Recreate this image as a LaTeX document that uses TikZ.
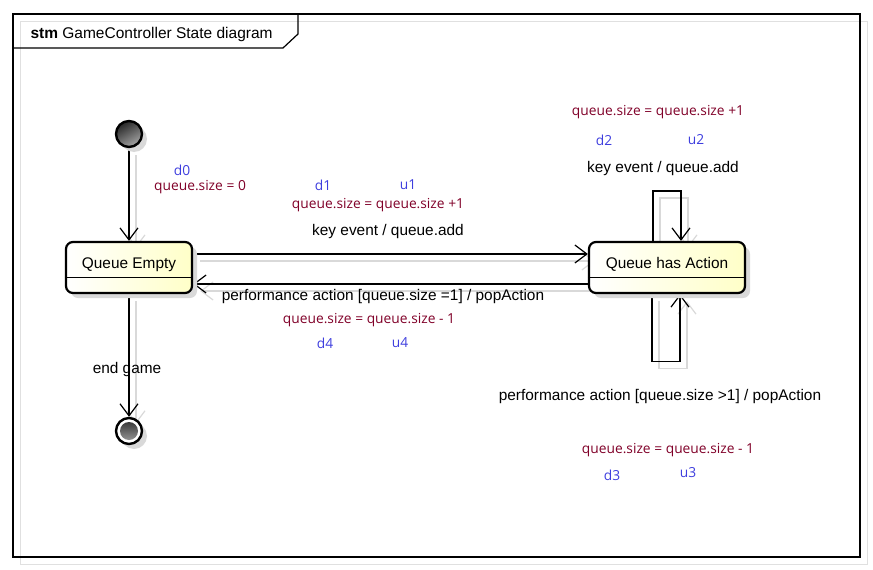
\documentclass[tikz,border=0pt]{standalone}
\usepackage{fontspec}
\setmainfont{Liberation Sans}
\newfontfamily\guardfont{Open Sans}
\usetikzlibrary{arrows.meta, shadows, positioning}
\definecolor{varblue}{RGB}{62,62,222}
\definecolor{actred}{RGB}{128,0,40}
\definecolor{statefill}{RGB}{255,255,200}
\pgfdeclarelayer{fore}
\pgfsetlayers{main,fore}

\begin{document}
\begin{tikzpicture}[x=1pt, y=-1pt,
  font=\fontsize{15.4}{18}\selectfont,
  state/.style={draw, line width=2.2pt, rounded corners=7pt, left color=white, right color=statefill,
    minimum height=51pt, text height=11pt, text depth=10pt,
    drop shadow={shadow xshift=5pt, shadow yshift=-5pt, fill=black!15, opacity=1}},
  pseudo/.style={circle, draw, line width=2.4pt, minimum size=26pt, inner sep=0pt,
    drop shadow={shadow xshift=5pt, shadow yshift=-5pt, fill=black!15, opacity=1}},
  trans/.style={line width=1.2pt, -{Straight Barb[length=12pt,width=18pt]},
    preaction={draw=black!15, line width=1.2pt, transform canvas={shift={(7pt,-7pt)}}}},
  evt/.style={font=\fontsize{15.4}{18}\selectfont},
  act/.style={font=\guardfont\fontsize{13.8}{16}\selectfont, text=actred},
  var/.style={font=\guardfont\fontsize{13.8}{16}\selectfont, text=varblue}]
\useasboundingbox (0,0) rectangle (873,570);

% frame
\draw [black!12, line width=1pt] (20,21) rectangle (867,564);
\draw [line width=1.2pt] (13,14) rectangle (860,557);
\draw [line width=1.2pt] (13,48) -- (283,48) -- (298,34) -- (298,14);
\node (title) at (27,38) [anchor=base west, font=\fontsize{15.5}{18}\selectfont] {\textbf{stm} GameController State diagram};

% states
\begin{pgfonlayer}{fore}
\node (init) at (129,134) [pseudo, top color=black!85, bottom color=black!35, shading angle=30] {};
\node (qe) at (129,267.5) [state, minimum width=126pt] {Queue Empty};
\node (qa) at (667,267.5) [state, minimum width=156pt] {Queue has Action};
\node (fin) at (129,431) [pseudo, fill=white,
  path picture={\shade [top color=black!85, bottom color=black!35] (path picture bounding box.center) circle (9pt);}] {};
\draw [line width=1pt] (qe.west |- 0,277) -- (qe.east |- 0,277);
\draw [line width=1pt] (qa.west |- 0,277) -- (qa.east |- 0,277);
\end{pgfonlayer}

% transitions
\draw [trans] (init) -- (qe);
\draw [trans] ([yshift=13.5pt]qe.east) -- ([yshift=13.5pt]qa.west);
\draw [trans] ([yshift=-16.5pt]qa.west) -- ([yshift=-16.5pt]qe.east);
\draw [trans] ([xshift=-14pt]qa.north) -- ++(0,-50) -| ([xshift=14pt]qa.north);
\draw [trans] ([xshift=-15pt]qa.south) -- ++(0,67) -| ([xshift=13pt]qa.south);
\draw [trans] (qe) -- (fin);

% labels
\node (d0) at (182,170) [var] {d0};
\node (a0) at (200,187) [act] {queue.size = 0};
\node (d1) at (323,185) [var] {d1};
\node (u1) at (408,185) [var] {u1};
\node (a1) at (378,205) [act] {queue.size = queue.size +1};
\node (e1) at (388,232) [evt] {key event / queue.add};
\node (e4) at (383,297) [evt] {performance action [queue.size =1] / popAction};
\node (a4) at (369,320) [act] {queue.size = queue.size - 1};
\node (d4) at (325,343) [var] {d4};
\node (u4) at (400,343) [var] {u4};
\node (a2) at (658,112) [act] {queue.size = queue.size +1};
\node (d2) at (604,140) [var] {d2};
\node (u2) at (696,140) [var] {u2};
\node (e2) at (663,169) [evt] {key event / queue.add};
\node (e3) at (660,397) [evt] {performance action [queue.size >1] / popAction};
\node (a3) at (668,450) [act] {queue.size = queue.size - 1};
\node (d3) at (612,475) [var] {d3};
\node (u3) at (688,473) [var] {u3};
\node (eg) at (127,370) [evt] {end game};
\end{tikzpicture}
\end{document}
